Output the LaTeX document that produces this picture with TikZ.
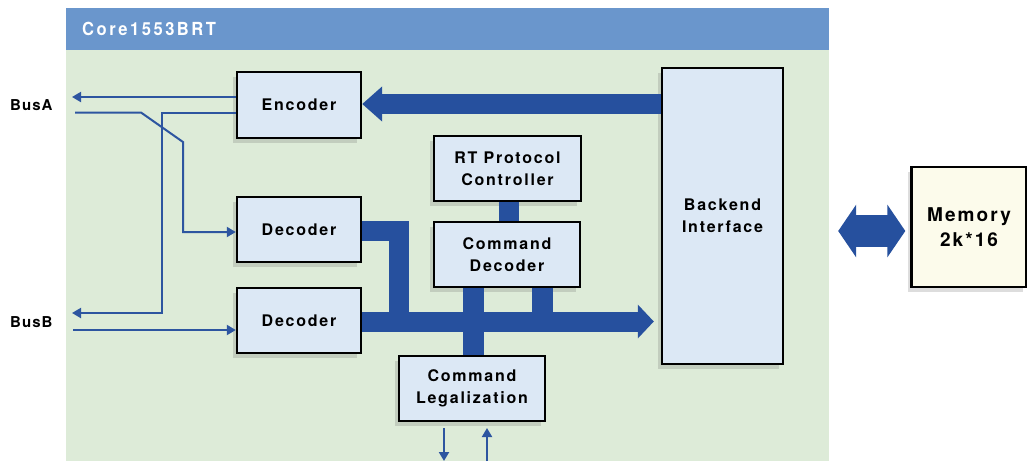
\documentclass[tikz,border=0pt]{standalone}
\usepackage{fontspec}
\setmainfont{TeX Gyre Heros}[LetterSpace=7]
\newfontfamily\blkfont{TeX Gyre Heros}[LetterSpace=11]
\newfontfamily\titlefont{TeX Gyre Heros}[LetterSpace=14,FakeStretch=0.92]
\usetikzlibrary{arrows.meta,shadows,calc}
\definecolor{bggreen}{HTML}{DDEBD8}
\definecolor{bandblue}{HTML}{6A96CC}
\definecolor{boxblue}{HTML}{DCE8F5}
\definecolor{darkblue}{HTML}{26509E}
\definecolor{thinblue}{HTML}{2D55A0}
\definecolor{memfill}{HTML}{FCFBEB}
\begin{document}
\begin{tikzpicture}[x=1pt,y=-1pt,
  blk/.style={draw=black,line width=2.4pt,fill=boxblue,align=center,inner sep=0pt,
    font=\blkfont\fontsize{16}{22}\selectfont\bfseries,
    drop shadow={shadow xshift=-4pt,shadow yshift=-5pt,opacity=0.22,fill=black!60}},
  fat/.style={draw=darkblue,line width=20pt,line join=miter},
  thin/.style={draw=thinblue,line width=2pt},
  thintip/.style={-{Triangle[length=9pt,width=10pt]}},
  lbl/.style={font=\fontsize{15}{18}\selectfont\bfseries,anchor=west,inner sep=0pt}]
\useasboundingbox (0,0) rectangle (1027,461);
\fill[white] (0,0) rectangle (1027,461);
% background
\fill[bggreen] (66,50) rectangle (829,461);
\fill[bandblue] (66,8) rectangle (829,50);
\node[anchor=west,text=white,font=\titlefont\fontsize{18}{20}\selectfont\bfseries,inner sep=0pt] (title) at (82,29) {Core1553BRT};
% blocks
\node[blk,minimum width=124pt,minimum height=66pt] (enc) at (299,105) {Encoder};
\node[blk,minimum width=124pt,minimum height=65pt] (dec1) at (299,229.5) {Decoder};
\node[blk,minimum width=124pt,minimum height=65pt] (dec2) at (299,320.5) {Decoder};
\node[blk,minimum width=147pt,minimum height=65pt] (rt) at (507.5,168.5) {RT Protocol\\Controller};
\node[blk,minimum width=146pt,minimum height=65pt] (cd) at (507,254.5) {Command\\Decoder};
\node[blk,minimum width=146pt,minimum height=65pt] (cl) at (472,388.5) {Command\\Legalization};
\node[blk,minimum width=121pt,minimum height=296pt] (be) at (722.5,216) {Backend\\Interface};
\node[blk,fill=memfill,minimum width=115pt,minimum height=120pt,font=\blkfont\fontsize{19}{25}\selectfont\bfseries] (mem) at (969,227) {Memory\\2k*16};
% fat connectors
\draw[fat,-{Triangle[length=20pt,width=34pt]}] (be.west |- 0,104) -- (enc.east |- 0,104);
\draw[fat] (dec1.east |- 0,231) -- (398.5,231) -- (398.5,322);
\draw[fat,line width=21pt] (473.5,0 |- cd.south) -- (473.5,0 |- cl.north);
\draw[fat,line width=21pt] (542.5,0 |- cd.south) -- (542.5,322);
\draw[fat] (509,0 |- rt.south) -- (509,0 |- cd.north);
\draw[fat,-{Triangle[length=16pt,width=33pt]}] (dec2.east |- 0,321.5) -- ($(be.west |- 0,321.5)+(-7,0)$);
\draw[fat,line width=32pt,{Triangle[length=18pt,width=52pt]}-{Triangle[length=18pt,width=52pt]}] ($(be.east)+(54,15)$) coordinate (dl) -- ($(mem.west)+(-5,4)$);
% thin bus lines
\coordinate (busAout) at (72,97);
\coordinate (busAin) at (75,112.5);
\coordinate (busBout) at (72,313);
\coordinate (busBin) at (73,330);
\draw[thin,thintip] (enc.west |- busAout) -- (busAout);
\draw[thin,thintip] (busAin) -- (141,112.5) -- (183,142) -- (183,232) -- (dec1.west |- 0,232);
\draw[thin,thintip] (enc.west |- 0,112.5) -- (161.5,112.5) -- (161.5,313) -- (busBout);
\draw[thin,thintip] (busBin) -- (dec2.west |- busBin);
% legalization I/O
\coordinate (clo) at (444,461);
\coordinate (cli) at (487,461);
\draw[thin,thintip] (444,428) -- (clo);
\draw[thin,thintip] (cli) -- (487,428);
% labels
\node[lbl] (busA) at (10,105) {BusA};
\node[lbl] (busB) at (10,322) {BusB};
\end{tikzpicture}
\end{document}
